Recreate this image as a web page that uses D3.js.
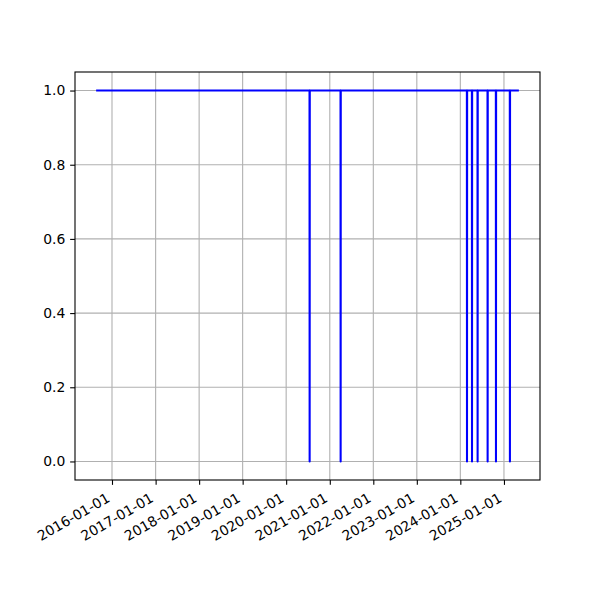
<!DOCTYPE html>
<html>
<head>
<meta charset="utf-8">
<script src="https://cdn.jsdelivr.net/npm/d3@7"></script>
<style>
  html, body { margin: 0; padding: 0; background: #fff; }
  svg { display: block; }
  text { font-family: "DejaVu Sans", sans-serif; font-size: 13.9px; fill: #000; }
</style>
</head>
<body>
<svg id="chart" width="600" height="600"></svg>
<script>
// ---- data ----
const dates = [
  "2015-08-21",
  "2020-07-15", "2020-07-16", "2020-07-17",
  "2021-04-01", "2021-04-02", "2021-04-03",
  "2024-02-25", "2024-02-26", "2024-02-27",
  "2024-04-07", "2024-04-08", "2024-04-09",
  "2024-05-24", "2024-05-25", "2024-05-26",
  "2024-08-16", "2024-08-17", "2024-08-18",
  "2024-10-25", "2024-10-26", "2024-10-27",
  "2025-02-19", "2025-02-20", "2025-02-21",
  "2025-05-06"
];
const values = [
  1,
  1, 0, 1,
  1, 0, 1,
  1, 0, 1,
  1, 0, 1,
  1, 0, 1,
  1, 0, 1,
  1, 0, 1,
  1, 0, 1,
  1
];
const xTickLabels = ["2016-01-01","2017-01-01","2018-01-01","2019-01-01","2020-01-01",
                     "2021-01-01","2022-01-01","2023-01-01","2024-01-01","2025-01-01"];
const yTickValues = [0.0, 0.2, 0.4, 0.6, 0.8, 1.0];

// ---- layout ----
const W = 600, H = 600;
const L = 75, R = 540, T = 72, B = 480;
const parse = d3.utcParse("%Y-%m-%d");
const pts = dates.map((d, i) => ({ t: parse(d), v: values[i] }));

const tExt = d3.extent(pts, d => d.t);
const span = tExt[1] - tExt[0];
const x = d3.scaleUtc()
  .domain([new Date(+tExt[0] - span * 0.05), new Date(+tExt[1] + span * 0.05)])
  .range([L, R]);
const y = d3.scaleLinear().domain([-0.05, 1.05]).range([B, T]);

const svg = d3.select("#chart");
const tickLen = 4.86, pad = 4.86;

// grid
const grid = svg.append("g");
xTickLabels.forEach(s => {
  const px = x(parse(s));
  grid.append("line").attr("x1", px).attr("x2", px).attr("y1", T).attr("y2", B)
    .attr("stroke", "#b0b0b0").attr("stroke-width", 1.1);
});
yTickValues.forEach(v => {
  grid.append("line").attr("x1", L).attr("x2", R).attr("y1", y(v)).attr("y2", y(v))
    .attr("stroke", "#b0b0b0").attr("stroke-width", 1.1);
});

// line
const line = d3.line().x(d => x(d.t)).y(d => y(d.v));
svg.append("path").datum(pts)
  .attr("d", line)
  .attr("fill", "none")
  .attr("stroke", "#0000ff")
  .attr("stroke-width", 2.08)
  .attr("stroke-linejoin", "round")
  .attr("stroke-linecap", "butt");

// spines
svg.append("rect").attr("x", L).attr("y", T).attr("width", R - L).attr("height", B - T)
  .attr("fill", "none").attr("stroke", "#000").attr("stroke-width", 1.1);

// y axis ticks
const yAxis = d3.axisLeft(y).tickValues(yTickValues).tickFormat(d3.format(".1f"))
  .tickSize(tickLen).tickPadding(pad);
const gy = svg.append("g").attr("transform", `translate(${L},0)`).call(yAxis);
gy.select(".domain").remove();
gy.selectAll(".tick line").attr("stroke", "#000").attr("stroke-width", 1.1);
gy.selectAll(".tick text").attr("font-family", "DejaVu Sans, sans-serif")
  .attr("font-size", "13.9px").attr("fill", "#000");

// x axis ticks
const xAxis = d3.axisBottom(x).tickValues(xTickLabels.map(parse))
  .tickFormat((d, i) => xTickLabels[i]).tickSize(tickLen).tickPadding(pad);
const gx = svg.append("g").attr("transform", `translate(0,${B})`).call(xAxis);
gx.select(".domain").remove();
gx.selectAll(".tick line").attr("stroke", "#000").attr("stroke-width", 1.1);
const h = 16.2, desc = 3.3, c = Math.cos(Math.PI / 6), s = Math.sin(Math.PI / 6);
gx.selectAll(".tick text")
  .attr("font-family", "DejaVu Sans, sans-serif").attr("font-size", "13.9px").attr("fill", "#000")
  .attr("text-anchor", "end")
  .attr("dy", null)
  .attr("y", 0)
  .attr("transform", `translate(${-s * desc},${tickLen + pad + h * c - c * desc}) rotate(-30)`);
</script>
</body>
</html>
